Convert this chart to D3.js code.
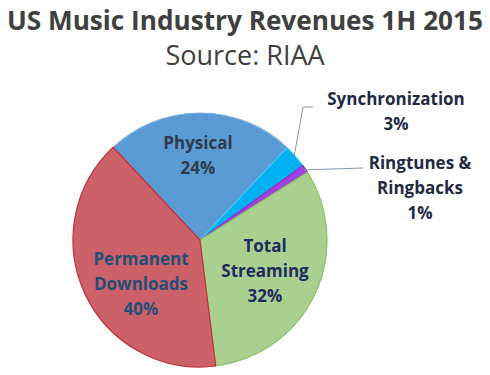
<!DOCTYPE html>
<html>
<head>
    <meta charset="utf-8" />
    <title>US Music Industry Revenues 1H 2015</title>
    <style>
        body { margin: 0; background: #fff; }
        svg { display: block; }
        text { font-family: "Open Sans", sans-serif; }
        .title { font-weight: bold; fill: #404040; }
        .sub { fill: #404040; }
        .lbl { font-weight: bold; }
    </style>
    <script src="https://d3js.org/d3.v7.min.js"></script>
</head>
<body>
<script>

// data
let categories = ["Physical", "Synchronization", "Ringtunes & Ringbacks", "Total Streaming", "Permanent Downloads"];
let shares = [24, 3, 1, 32, 40];
let labelLines = [
    ["Physical", "24%"],
    ["Synchronization", "3%"],
    ["Ringtunes &", "Ringbacks", "1%"],
    ["Total", "Streaming", "32%"],
    ["Permanent", "Downloads", "40%"]
];

let W = 490, H = 375;
let cx = 200, cy = 240, r = 127;

let fills = ["#5B9BD5", "#00B0F0", "#A040E0", "#A9D08E", "#CC6169"];
let strokes = ["#7FB0E0", "#40C8F8", "#8A2BD0", "#8CC06A", "#C0303A"];
let labelCol = ["#2F3B4C", "#1F2A44", "#1F2A44", "#1F2A60", "#1F4E79"];

let svg = d3.select("body").append("svg")
    .attr("width", W)
    .attr("height", H);

svg.append("text").attr("class", "title")
    .attr("x", W / 2).attr("y", 30)
    .attr("text-anchor", "middle")
    .style("font-size", "26px")
    .attr("textLength", 476)
    .attr("lengthAdjust", "spacingAndGlyphs")
    .text("US Music Industry Revenues 1H 2015");

svg.append("text").attr("class", "sub")
    .attr("x", W / 2).attr("y", 65)
    .attr("text-anchor", "middle")
    .style("font-size", "27px")
    .text("Source: RIAA");

let startA = -43.1 * Math.PI / 180;
let pie = d3.pie().sort(null)
    .startAngle(startA)
    .endAngle(startA + 2 * Math.PI);
let arcs = pie(shares);
let arc = d3.arc().innerRadius(0).outerRadius(r);

let g = svg.append("g").attr("transform", "translate(" + cx + "," + cy + ")");

g.selectAll("path")
    .data(arcs)
    .enter()
    .append("path")
    .attr("d", arc)
    .attr("fill", (d, i) => fills[i])
    .attr("stroke", (d, i) => strokes[i])
    .attr("stroke-width", 1.2)
    .attr("stroke-linejoin", "round");

// label positions (inside for big slices, outside for the two small ones)
let labelPos = [
    [198, 149],
    [396, 105],
    [420, 169],
    [265, 252],
    [141, 265]
];

// leader lines for small slices
let lead = d3.line();
let a1 = d3.arc().innerRadius(r - 2).outerRadius(r - 2);
let c1 = a1.centroid(arcs[1]);
let c2 = a1.centroid(arcs[2]);
svg.append("path")
    .attr("d", lead([[cx + c1[0], cy + c1[1]], [303, 107], [313, 107]]))
    .attr("fill", "none").attr("stroke", "#8497B0").attr("stroke-width", 1);
svg.append("path")
    .attr("d", lead([[cx + c2[0], cy + c2[1]], [363, 168]]))
    .attr("fill", "none").attr("stroke", "#8497B0").attr("stroke-width", 1);

labelLines.forEach((lines, i) => {
    let t = svg.append("text")
        .attr("class", "lbl")
        .attr("text-anchor", "middle")
        .attr("fill", labelCol[i])
        .style("font-size", "17px");
    lines.forEach((s, j) => {
        t.append("tspan")
            .attr("x", labelPos[i][0])
            .attr("y", labelPos[i][1] + j * 25)
            .text(s);
    });
});

</script>
</body>
</html>
